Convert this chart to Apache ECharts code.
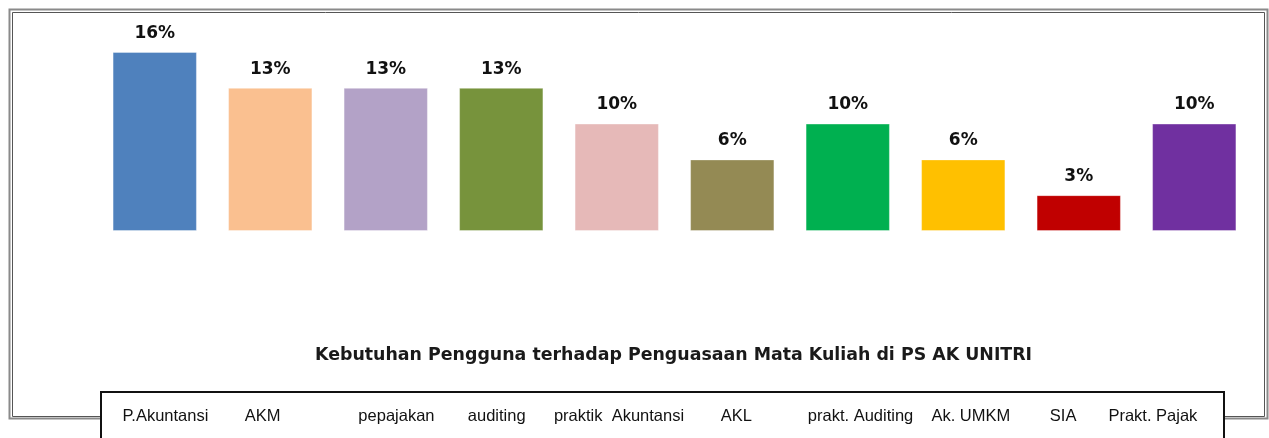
<!DOCTYPE html>
<html>
<head>
<meta charset="utf-8">
<script src="https://cdn.jsdelivr.net/npm/echarts@6/dist/echarts.min.js"></script>
<style>
html,body{margin:0;padding:0;background:#fff;}
#chart{width:1269px;height:438px;}
</style>
</head>
<body>
<div id="chart"></div>
<script>
const categories = ['P.Akuntansi', 'AKM', 'pepajakan', 'auditing', 'praktik  Akuntansi', 'AKL', 'prakt. Auditing', 'Ak. UMKM', 'SIA', 'Prakt. Pajak'];
const values = [16.13, 12.90, 12.90, 12.90, 9.68, 6.45, 9.68, 6.45, 3.23, 9.68];
const colors = ['#4F81BD', '#FAC090', '#B3A2C7', '#77933C', '#E6B9B8', '#948A54', '#00B050', '#FFC000', '#C00000', '#7030A0'];
const titleText = 'Kebutuhan Pengguna terhadap Penguasaan Mata Kuliah di PS AK UNITRI';

// layout only: padding nudges for each legend-row label relative to its bar centre
const legendShift = [11, -6.5, 12.5, -2, 5.5, 8, 17.5, 13, -9.5, -34.5];

const legendItems = categories.map((c, i) => {
  const d = legendShift[i];
  return {value: c, textStyle: {padding: d >= 0 ? [0, 0, 0, 2 * d] : [0, -2 * d, 0, 0]}};
});

const chart = echarts.init(document.getElementById('chart'), null, {renderer: 'canvas'});
chart.setOption({
  animation: false,
  backgroundColor: '#fff',
  title: {
    text: titleText,
    left: 315,
    top: 346,
    padding: 0,
    textStyle: {fontFamily: 'DejaVu Sans', fontWeight: 'bold', fontSize: 17.4, color: '#1a1a1a', lineHeight: 18}
  },
  graphic: [
    {type: 'polyline', z: 1, shape: {points: [[100, 418.5], [9.5, 418.5], [9.5, 9.5], [1267.5, 9.5], [1267.5, 418.5], [1224, 418.5]]}, style: {fill: 'none', stroke: '#8a8a8a', lineWidth: 2}},
    {type: 'polyline', z: 1, shape: {points: [[100, 416.5], [12.5, 416.5], [12.5, 12.5], [1264.5, 12.5], [1264.5, 416.5], [1224, 416.5]]}, style: {fill: 'none', stroke: '#555', lineWidth: 1}},
    {type: 'rect', z: 2, shape: {x: 101, y: 392, width: 1123, height: 60}, style: {fill: '#fff', stroke: '#111', lineWidth: 2}}
  ],
  grid: [
    {left: 97, right: 17, top: 9, bottom: 207},
    {left: 97, right: 17, top: 405, height: 1}
  ],
  xAxis: [
    {type: 'category', gridIndex: 0, data: categories, show: false},
    {type: 'category', gridIndex: 1, data: legendItems, z: 10,
     axisLine: {show: false}, axisTick: {show: false},
     axisLabel: {margin: 2, interval: 0, fontFamily: 'Liberation Sans', fontSize: 16.5, color: '#111', lineHeight: 17}}
  ],
  yAxis: [
    {type: 'value', gridIndex: 0, min: 0, max: 20, show: false},
    {type: 'value', gridIndex: 1, show: false}
  ],
  series: [{
    type: 'bar',
    xAxisIndex: 0, yAxisIndex: 0,
    data: values.map((v, i) => ({value: v, itemStyle: {color: colors[i]}})),
    barCategoryGap: '27%',
    itemStyle: {borderColor: 'rgba(255,255,255,0.35)', borderWidth: 1},
    label: {
      show: true, position: 'top', distance: 10,
      formatter: p => Math.round(p.value) + '%',
      fontFamily: 'DejaVu Sans', fontWeight: 'bold', fontSize: 17, color: '#111', lineHeight: 17
    }
  }]
});
</script>
</body>
</html>
